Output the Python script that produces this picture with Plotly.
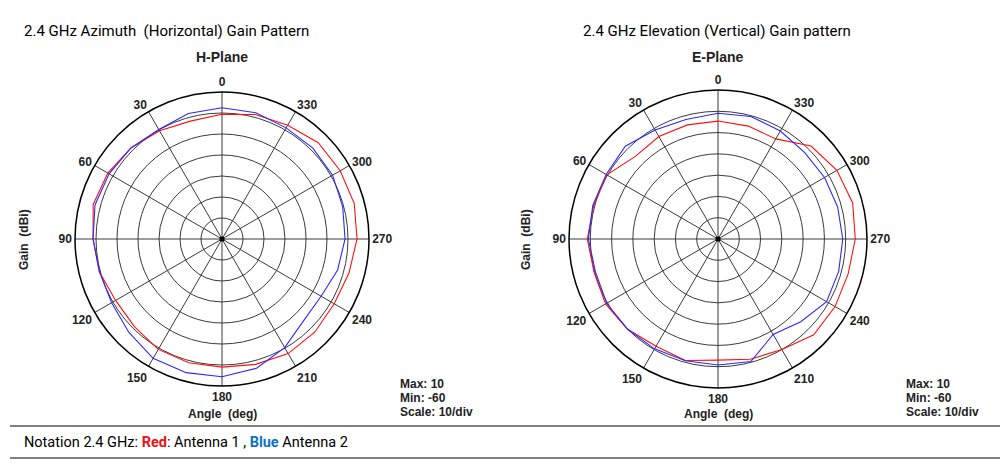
import plotly.graph_objects as go

# ---------------- data ----------------
angles = [0, 15, 30, 45, 60, 75, 90, 105, 120, 135, 150, 165,
          180, 195, 210, 225, 240, 255, 270, 285, 300, 315, 330, 345]

h_red = [-0.6, -1.9, -0.5, 1.3, 2.8, 3.5, 1.4, 0.5, -1.5, -1.0, 0.7, 1.0,
         1.0, 1.8, 3.0, 2.6, 1.7, 2.6, 4.3, 5.2, 5.0, 4.8, 2.6, 1.4]
h_blue = [2.5, 1.9, 0.2, 1.3, 2.1, 2.6, 1.4, 0.4, 0.7, 2.8, 5.6, 5.9,
          5.6, 3.7, -0.3, -5.0, -5.5, -3.0, -1.4, -0.5, 0.8, 1.2, 1.1, 2.2]

e_red = [-4.6, -4.5, -4.4, -5.1, 0.3, 0.5, 1.4, 0.3, 1.0, 0.0, -1.8, -0.9,
         -3.1, -1.5, 0.0, 3.6, 3.5, 3.3, 4.5, 5.5, 4.5, 1.8, -5.7, -5.1]
e_blue = [-0.9, -1.9, -0.9, 1.6, 0.7, 0.9, 0.9, -0.4, 0.4, 0.0, -0.4, -0.8,
          -0.8, -0.4, -8.2, -5.0, -1.1, -1.3, -1.4, -1.8, -2.2, -2.5, -1.4, -0.4]

tick_angles = [0, 30, 60, 90, 120, 150, 180, 210, 240, 270, 300, 330]
tick_labels = [str(a) for a in tick_angles]
r_min, r_max, r_step = -60, 10, 10

# ---------------- figure ----------------
W, H = 1007, 472
fig = go.Figure()


def closed(v):
    return v + v[:1]


def add_pair(red, blue, sub):
    fig.add_trace(go.Scatterpolar(r=closed(red), theta=closed(angles), mode="lines",
                                  line=dict(color="#ff1010", width=1.1), subplot=sub,
                                  showlegend=False, hoverinfo="skip"))
    fig.add_trace(go.Scatterpolar(r=closed(blue), theta=closed(angles), mode="lines",
                                  line=dict(color="#2a2aff", width=1.1), subplot=sub,
                                  showlegend=False, hoverinfo="skip"))
    fig.add_trace(go.Scatterpolar(r=[r_min], theta=[0], mode="markers",
                                  marker=dict(color="black", size=5), subplot=sub,
                                  showlegend=False, hoverinfo="skip"))


add_pair(h_red, h_blue, "polar")
add_pair(e_red, e_blue, "polar2")


def dom(cx, cy, R):
    cyb = H - cy
    return dict(x=[(cx - R) / W, (cx + R) / W], y=[(cyb - R) / H, (cyb + R) / H])


def polar_cfg(cx, cy, R):
    return dict(
        domain=dom(cx, cy, R),
        bgcolor="white",
        radialaxis=dict(range=[r_min, r_max], dtick=r_step, tick0=r_min,
                        showticklabels=False, ticks="", showline=False,
                        gridcolor="#3a3a3a", gridwidth=1.1),
        angularaxis=dict(direction="counterclockwise", rotation=90,
                         tickmode="array", tickvals=tick_angles, ticktext=tick_labels,
                         ticks="", showline=True, linecolor="black", linewidth=1.5,
                         gridcolor="#3a3a3a", gridwidth=1,
                         tickfont=dict(family="Liberation Sans", size=12,
                                       color="#222", weight="bold")),
    )


fig.update_layout(
    width=W, height=H,
    margin=dict(l=0, r=0, t=0, b=0),
    paper_bgcolor="white", plot_bgcolor="white",
    polar=polar_cfg(222, 239, 147),
    polar2=polar_cfg(718, 239, 149),
)

ann = []


def txt(x, y, s, size=12, bold=True, color="#222", angle=0, xanchor="center",
        family="Liberation Sans"):
    ann.append(dict(x=x / W, y=1 - y / H, xref="paper", yref="paper", text=s,
                    showarrow=False, xanchor=xanchor, yanchor="middle", textangle=angle,
                    font=dict(family=family, size=size, color=color,
                              weight="bold" if bold else "normal")))


title_font = "Roboto"
txt(22, 31, "2.4 GHz Azimuth  (Horizontal) Gain Pattern", size=15, bold=False,
    color="black", xanchor="left", family=title_font)
txt(581, 31, "2.4 GHz Elevation (Vertical) Gain pattern", size=15, bold=False,
    color="black", xanchor="left", family=title_font)

for cx, name, gx, sx in [(222, "H-Plane", 24, 398), (718, "E-Plane", 526, 904)]:
    txt(cx, 57, name, size=14)
    txt(cx, 414, "Angle  (deg)", size=12)
    txt(gx, 240, "Gain  (dBi)", size=12, angle=-90)
    txt(sx, 384, "Max: 10", size=12, xanchor="left")
    txt(sx, 398, "Min: -60", size=12, xanchor="left")
    txt(sx, 412, "Scale: 10/div", size=12, xanchor="left")

txt(22, 442, "Notation 2.4 GHz: <b><span style='color:#ee1111'>Red</span></b>: Antenna 1 , "
    "<b><span style='color:#0b72c4'>Blue</span></b> Antenna 2",
    size=14.5, bold=False, color="black", xanchor="left", family=title_font)

fig.update_layout(annotations=ann)

fig.update_layout(shapes=[
    dict(type="line", xref="paper", yref="paper", x0=10 / W, x1=1000 / W,
         y0=1 - 426 / H, y1=1 - 426 / H, line=dict(color="black", width=1)),
    dict(type="line", xref="paper", yref="paper", x0=10 / W, x1=1000 / W,
         y0=1 - 458 / H, y1=1 - 458 / H, line=dict(color="black", width=1)),
])

fig.write_html("out.html",
               config={"displayModeBar": False},
               post_script="document.body.style.margin='0';"
                           "document.body.style.overflow='hidden';")
